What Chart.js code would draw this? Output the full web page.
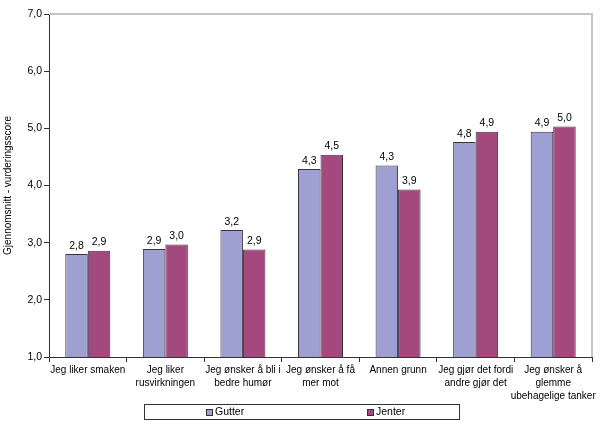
<!DOCTYPE html>
<html><head><meta charset="utf-8">
<script src="https://cdn.jsdelivr.net/npm/chart.js@4/dist/chart.umd.min.js"></script>
<style>html,body{margin:0;padding:0;background:#fff}#wrap{width:600px;height:426px;position:relative}</style>
</head><body><div id="wrap"><canvas id="c" width="600" height="426"></canvas></div>
<script>
const categories = [
  ["Jeg liker smaken"],
  ["Jeg liker", "rusvirkningen"],
  ["Jeg ønsker å bli i", "bedre humør"],
  ["Jeg ønsker å få", "mer mot"],
  ["Annen grunn"],
  ["Jeg gjør det fordi", "andre gjør det"],
  ["Jeg ønsker å", "glemme", "ubehagelige tanker"]
];
const seriesNames = ["Gutter", "Jenter"];
const gutter = [2.80, 2.89, 3.22, 4.29, 4.35, 4.76, 4.94];
const jenter = [2.86, 2.97, 2.88, 4.54, 3.93, 4.94, 5.03];
const yMin = 1, yMax = 7, yStep = 1;
const yTitle = "Gjennomsnitt - vurderingsscore";

const FONT = "'Liberation Sans', Arial, sans-serif";
const fmt = v => v.toFixed(1).replace('.', ',');

const frame = {
  id: 'frame',
  beforeDatasetsDraw(chart) {
    const {ctx, chartArea: a} = chart;
    ctx.save();
    ctx.strokeStyle = '#c4c4c4';
    ctx.lineWidth = 2;
    ctx.beginPath();
    ctx.moveTo(a.left, a.top); ctx.lineTo(a.right, a.top); ctx.lineTo(a.right, a.bottom);
    ctx.stroke();
    ctx.restore();
  }
};
const valueLabels = {
  id: 'valueLabels',
  afterDatasetsDraw(chart) {
    const {ctx} = chart;
    ctx.save();
    ctx.font = '10.5px ' + FONT;
    ctx.fillStyle = '#000';
    ctx.textAlign = 'center';
    ctx.textBaseline = 'bottom';
    chart.data.datasets.forEach((ds, i) => {
      chart.getDatasetMeta(i).data.forEach((bar, j) => {
        ctx.fillText(fmt(ds.data[j]), bar.x, bar.y - 3);
      });
    });
    ctx.restore();
  }
};
const boxLegend = {
  id: 'boxLegend',
  afterDraw(chart) {
    const {ctx} = chart;
    ctx.save();
    ctx.strokeStyle = '#333';
    ctx.lineWidth = 1;
    ctx.strokeRect(144.5, 404.5, 315, 15);
    ctx.font = '10.5px ' + FONT;
    ctx.textBaseline = 'middle';
    const xs = [206, 367];
    chart.data.datasets.forEach((ds, i) => {
      ctx.fillStyle = ds.backgroundColor;
      ctx.fillRect(xs[i], 409, 7, 7);
      ctx.strokeStyle = '#333';
      ctx.strokeRect(xs[i] + 0.5, 409.5, 6, 6);
      ctx.fillStyle = '#000';
      ctx.fillText(ds.label, xs[i] + 9, 412.5);
    });
    ctx.restore();
  }
};

new Chart(document.getElementById('c'), {
  type: 'bar',
  data: {
    labels: categories,
    datasets: [
      {label: seriesNames[0], data: gutter, backgroundColor: '#9ea0d2', borderColor: '#3a3040', borderWidth: 1},
      {label: seriesNames[1], data: jenter, backgroundColor: '#a4497e', borderColor: '#3a3040', borderWidth: 1}
    ]
  },
  options: {
    responsive: false,
    animation: false,
    devicePixelRatio: 1,
    categoryPercentage: 0.58,
    barPercentage: 1.0,
    layout: {padding: {top: 14, right: 8, bottom: 19, left: 0}},
    plugins: {legend: {display: false}, tooltip: {enabled: false}},
    scales: {
      x: {
        grid: {display: true, drawOnChartArea: false, offset: true, color: '#333', tickLength: 5},
        border: {color: '#333', width: 1},
        ticks: {color: '#000', font: {family: FONT, size: 10, lineHeight: 1.3}, padding: 2, maxRotation: 0, autoSkip: false},
        afterFit(s) { s.height = 50; }
      },
      y: {
        min: yMin, max: yMax,
        grid: {display: true, drawOnChartArea: false, color: '#333', tickLength: 5},
        border: {color: '#333', width: 1},
        ticks: {stepSize: yStep, color: '#000', font: {family: FONT, size: 10.5}, padding: 2, callback: v => fmt(v)},
        title: {display: true, text: yTitle, color: '#000', font: {family: FONT, size: 10}, padding: {top: 2, bottom: 0}},
        afterFit(s) { s.width = 49; }
      }
    }
  },
  plugins: [frame, valueLabels, boxLegend]
});
</script></body></html>
